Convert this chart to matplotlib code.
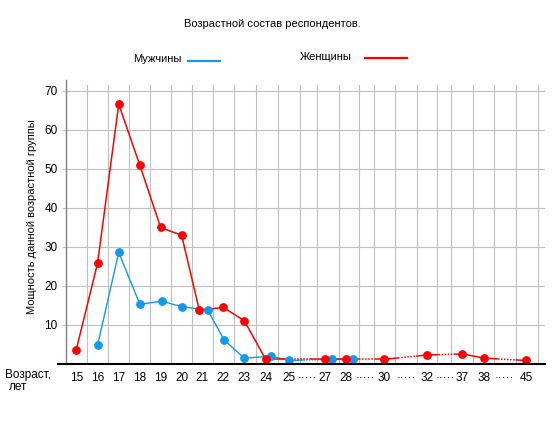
import matplotlib
matplotlib.use("Agg")
import matplotlib.pyplot as plt

plt.rcParams['font.family'] = ['Liberation Sans', 'DejaVu Sans']

# ---- data ----
tick_labels = ['15', '16', '17', '18', '19', '20', '21', '22', '23', '24', '25',
               '·····', '27', '28', '·····', '30', '·····', '32', '·····', '37', '38',
               '·····', '45']
women_ages = [15, 16, 17, 18, 19, 20, 21, 22, 23, 24, 27, 28, 30, 32, 37, 38, 45]
women_vals = [3.6, 25.8, 66.6, 50.9, 35.0, 33.0, 13.8, 14.5, 11.1, 1.2,
              1.2, 1.2, 1.2, 2.3, 2.6, 1.5, 0.9]
men_ages = [16, 17, 18, 19, 20, 21, 22, 23, 24, 25, 27, 28]
men_vals = [4.8, 28.6, 15.3, 16.1, 14.7, 13.8, 6.1, 1.5, 2.0, 0.9, 1.2, 1.2]
yticks = [10, 20, 30, 40, 50, 60, 70]

# ---- layout / style ----
W, H = 555, 434
label_pos = [-0.04, 1.0, 2.03, 3.06, 4.07, 5.09, 6.08, 7.12, 8.14, 9.18, 10.32,
             11.21, 12.07, 13.09, 14.01, 14.94, 16.04, 17.02, 17.91, 18.75, 19.8,
             20.78, 21.85]
grid_x = [0.50, 1.52, 2.55, 3.57, 4.59, 5.61, 6.63, 7.65, 8.73, 9.80, 10.85, 11.69,
          12.73, 13.74, 14.47, 15.49, 16.53, 17.50, 18.21, 19.26, 20.31, 21.38, 22.45]
women_dodge = {21: -0.13}
men_dodge = {19: 0.05, 21: 0.28, 22: 0.05, 24: 0.28, 27: 0.35, 28: 0.33}
RED = '#FF0000'
BLUE = '#1199EE'
GRID = '#C0C0C0'

def px(x, y):
    return x / W, 1 - y / H

fig = plt.figure(figsize=(W / 100, H / 100), dpi=100)
left, right, top, bottom = 66, 545, 80, 364
ax = fig.add_axes([left / W, 1 - bottom / H, (right - left) / W, (bottom - top) / H])
ax.set_xlim(-0.535, 22.77)
ax.set_ylim(0, 72.8)

for s in ['top', 'right', 'bottom']:
    ax.spines[s].set_visible(False)
ax.spines['left'].set_color('#808080')
ax.spines['left'].set_linewidth(1.0)

# grid
for gy in yticks:
    ax.axhline(gy, color=GRID, lw=0.8, zorder=1)
for gx in grid_x:
    ax.plot([gx, gx], [0, 71.5], color=GRID, lw=0.8, zorder=1)

# bottom axis line
ax.plot([-0.017, 1.0], [0, 0], transform=ax.transAxes, color='black', lw=1.5,
        clip_on=False, zorder=5)

ax.set_yticks(yticks)
ax.set_yticklabels([str(v) for v in yticks], fontsize=8.5)
ax.tick_params(axis='y', length=3, color=GRID, pad=3)
ax.set_xticks(label_pos)
ax.set_xticklabels(tick_labels, fontsize=8.5)
ax.tick_params(axis='x', length=0, pad=6)

slot = {}
for lab, p in zip(tick_labels, label_pos):
    if lab.isdigit():
        slot[int(lab)] = p


def draw_series(ages, vals, dodge, color, lw):
    xs = [slot[a] + dodge.get(a, 0.0) for a in ages]
    for k in range(len(ages) - 1):
        x0, x1 = xs[k], xs[k + 1]
        y0, y1 = vals[k], vals[k + 1]
        if ages[k + 1] - ages[k] > 1:
            def at(t):
                return x0 + (x1 - x0) * t, y0 + (y1 - y0) * t
            a = at(0.0); b = at(0.33); c = at(0.75); d = at(1.0)
            ax.plot([a[0], b[0]], [a[1], b[1]], color=color, lw=lw, zorder=3,
                    solid_capstyle='butt')
            ax.plot([b[0], c[0]], [b[1], c[1]], color=color, lw=lw, zorder=3,
                    linestyle=(0, (1, 1)))
            ax.plot([c[0], d[0]], [c[1], d[1]], color=color, lw=lw, zorder=3,
                    solid_capstyle='butt')
        else:
            ax.plot([x0, x1], [y0, y1], color=color, lw=lw, zorder=3)
    ax.plot(xs, vals, 'o', color=color, ms=5.3, zorder=4, clip_on=False)


draw_series(men_ages, men_vals, men_dodge, BLUE, 1.0)
draw_series(women_ages, women_vals, women_dodge, RED, 1.1)

# y label
fig.text(*px(32, 217), 'Мощность данной возрастной группы', rotation=90,
         ha='center', va='center', fontsize=8)

# title
fig.text(*px(272, 24), 'Возрастной состав респондентов.', ha='center', va='center',
         fontsize=8)

# legend
fig.text(*px(182, 59), 'Мужчины', ha='right', va='center', fontsize=8)
fig.add_artist(plt.Line2D([188 / W, 220 / W], [1 - 60.5 / H, 1 - 60.5 / H],
                          color=BLUE, lw=1.6))
fig.text(*px(300, 57), 'Женщины', ha='left', va='center', fontsize=8)
fig.add_artist(plt.Line2D([365 / W, 407 / W], [1 - 58 / H, 1 - 58 / H],
                          color=RED, lw=1.6))

# x axis caption
fig.text(*px(5, 375), 'Возраст,', ha='left', va='center', fontsize=8.5)
fig.text(*px(9, 387), 'лет', ha='left', va='center', fontsize=8.5)

fig.savefig('out.png', dpi=100)
